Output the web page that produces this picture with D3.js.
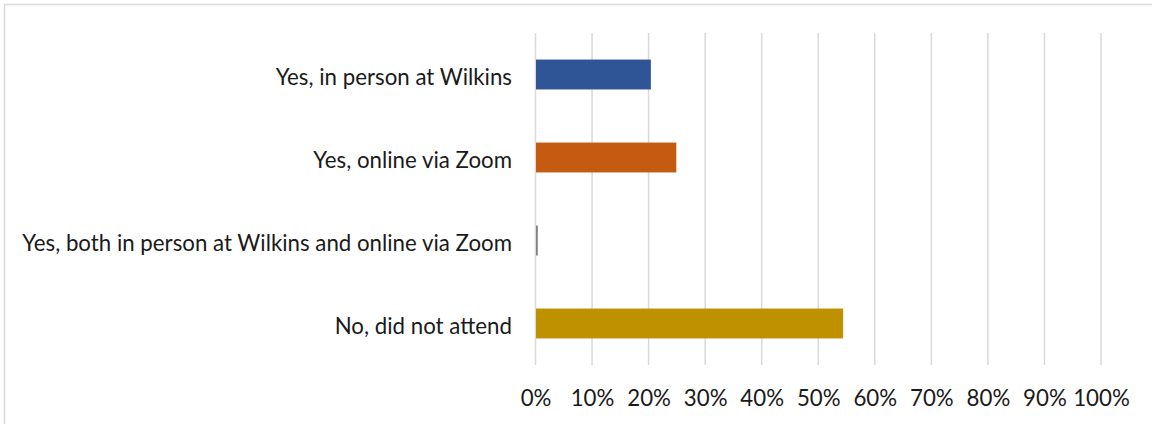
<!DOCTYPE html>
<html>
<head>
<meta charset="utf-8">
<script src="https://cdn.jsdelivr.net/npm/d3@7"></script>
<style>
  html, body { margin: 0; padding: 0; background: #fff; }
  svg { display: block; }
  text { font-family: Lato, "Open Sans", sans-serif; fill: #1a1a1a; }
</style>
</head>
<body>
<svg id="chart" width="1152" height="424"></svg>
<script>
const categories = [
  "Yes, in person at Wilkins",
  "Yes, online via Zoom",
  "Yes, both in person at Wilkins and online via Zoom",
  "No, did not attend"
];
const values = [0.204, 0.249, 0.004, 0.544];
const colors = ["#2f5597", "#c55a11", "#7f7f7f", "#bf9000"];
const tickValues = [0, 0.1, 0.2, 0.3, 0.4, 0.5, 0.6, 0.7, 0.8, 0.9, 1.0];

const svg = d3.select("#chart");
const W = 1152, H = 424;

// chart border (extends beyond the window on right/bottom)
svg.append("rect")
  .attr("x", 4.5).attr("y", 4.5)
  .attr("width", W + 10).attr("height", H + 10)
  .attr("fill", "#fff")
  .attr("stroke", "#d9d9d9").attr("stroke-width", 1.5);

const plot = { left: 535.5, right: 1101, top: 33, bottom: 365 };

const x = d3.scaleLinear().domain([0, 1]).range([plot.left, plot.right]);
const y = d3.scaleBand().domain(categories).range([plot.top, plot.bottom]).paddingInner(0.64).paddingOuter(0.32);

// gridlines
svg.append("g")
  .selectAll("line")
  .data(tickValues)
  .join("line")
  .attr("x1", d => x(d)).attr("x2", d => x(d))
  .attr("y1", plot.top).attr("y2", plot.bottom)
  .attr("stroke", "#d9d9d9").attr("stroke-width", 1.5);

// bars
svg.append("g")
  .selectAll("rect")
  .data(categories)
  .join("rect")
  .attr("x", x(0) + 0.5)
  .attr("y", d => y(d))
  .attr("width", (d, i) => Math.max(0, x(values[i]) - x(0) - 0.5))
  .attr("height", y.bandwidth())
  .attr("fill", (d, i) => colors[i]);

// category labels
const labelSize = 19;
const labels = svg.append("g")
  .selectAll("text")
  .data(categories)
  .join("text")
  .attr("x", 512)
  .attr("y", d => y(d) + y.bandwidth() / 2)
  .attr("dy", "0.45em")
  .attr("text-anchor", "end")
  .style("font-size", labelSize + "px")
  .text(d => d);

// fit longest label to ~490px width
let maxW = 0;
labels.each(function() { maxW = Math.max(maxW, this.getComputedTextLength()); });
const fitted = labelSize * 490 / maxW;
labels.style("font-size", fitted + "px");

// x axis tick labels
const axis = d3.axisBottom(x).tickValues(tickValues).tickFormat(d3.format(".0%")).tickSize(0).tickPadding(0);
const ax = svg.append("g").attr("transform", `translate(0, ${plot.bottom})`).call(axis);
ax.select(".domain").remove();
ax.selectAll("text")
  .attr("y", 32)
  .attr("dy", "0.4em")
  .style("font-size", fitted + "px")
  .style("font-family", "Lato, 'Open Sans', sans-serif")
  .attr("fill", "#1a1a1a");
</script>
</body>
</html>
